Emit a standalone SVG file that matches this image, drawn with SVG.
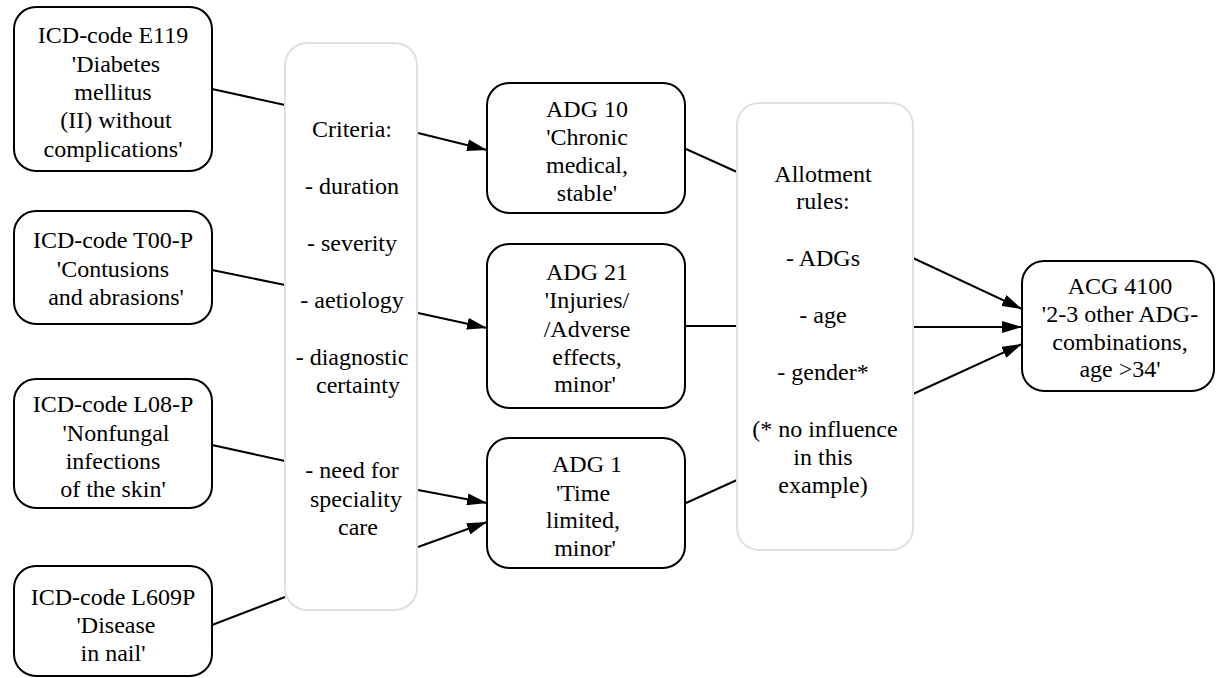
<svg xmlns="http://www.w3.org/2000/svg" width="1216" height="678" viewBox="0 0 1216 678">
<style>
.box{fill:#fff;stroke:#000;stroke-width:2}
.gbox{fill:#fff;stroke:#e0e0e0;stroke-width:2}
.t{font-size:24px;fill:#000;text-anchor:middle}
.edge{stroke:#000;stroke-width:2;fill:none}
</style>
<defs>
<marker id="arr" viewBox="0 0 20 12" refX="20" refY="6" markerWidth="20" markerHeight="12" orient="auto" markerUnits="userSpaceOnUse">
<path d="M0,0 L20,6 L0,12 z" fill="#000"/>
</marker>
</defs>
<rect width="1216" height="678" fill="#fff"/>
<g id="connectors">
<line class="edge" x1="212" y1="89" x2="285" y2="105"/>
<line class="edge" x1="212" y1="270" x2="285" y2="285"/>
<line class="edge" x1="212" y1="445" x2="285" y2="461"/>
<line class="edge" x1="212" y1="625" x2="285" y2="597"/>
<line class="edge" x1="418" y1="133" x2="487" y2="150" marker-end="url(#arr)"/>
<line class="edge" x1="418" y1="313" x2="487" y2="328" marker-end="url(#arr)"/>
<line class="edge" x1="418" y1="490" x2="487" y2="503" marker-end="url(#arr)"/>
<line class="edge" x1="418" y1="547" x2="487" y2="522" marker-end="url(#arr)"/>
<line class="edge" x1="686" y1="149" x2="737" y2="172"/>
<line class="edge" x1="686" y1="326" x2="737" y2="326"/>
<line class="edge" x1="686" y1="503" x2="737" y2="480"/>
<line class="edge" x1="913" y1="258" x2="1022" y2="309" marker-end="url(#arr)"/>
<line class="edge" x1="913" y1="327" x2="1022" y2="327" marker-end="url(#arr)"/>
<line class="edge" x1="913" y1="394" x2="1022" y2="344" marker-end="url(#arr)"/>
</g>
<g font-family="Liberation Serif, Times New Roman, serif">
<g id="icd_e119">
<rect class="box" x="14" y="7" width="198" height="164" rx="22"/>
<text class="t" x="113" y="43">ICD-code E119</text>
<text class="t" x="116" y="72">'Diabetes</text>
<text class="t" x="113" y="100">mellitus</text>
<text class="t" x="116" y="128">(II) without</text>
<text class="t" x="113" y="157">complications'</text>
</g>
<g id="icd_t00p">
<rect class="box" x="14" y="211" width="198" height="113" rx="22"/>
<text class="t" x="113" y="248">ICD-code T00-P</text>
<text class="t" x="113" y="277">'Contusions</text>
<text class="t" x="116" y="305">and abrasions'</text>
</g>
<g id="icd_l08p">
<rect class="box" x="14" y="379" width="198" height="129" rx="22"/>
<text class="t" x="113" y="412">ICD-code L08-P</text>
<text class="t" x="116" y="441">'Nonfungal</text>
<text class="t" x="113" y="469">infections</text>
<text class="t" x="113" y="497">of the skin'</text>
</g>
<g id="icd_l609p">
<rect class="box" x="14" y="566" width="198" height="110" rx="22"/>
<text class="t" x="113" y="605">ICD-code L609P</text>
<text class="t" x="116" y="633">'Disease</text>
<text class="t" x="113" y="661">in nail'</text>
</g>
<g id="criteria">
<rect class="gbox" x="285" y="43" width="132" height="567" rx="22"/>
<text class="t" x="352" y="137">Criteria:</text>
<text class="t" x="352" y="194">- duration</text>
<text class="t" x="352" y="251">- severity</text>
<text class="t" x="352" y="308">- aetiology</text>
<text class="t" x="352" y="365">- diagnostic</text>
<text class="t" x="358" y="393">certainty</text>
<text class="t" x="352" y="478">- need for</text>
<text class="t" x="356" y="507">speciality</text>
<text class="t" x="358" y="535">care</text>
</g>
<g id="adg10">
<rect class="box" x="487" y="83" width="198" height="130" rx="22"/>
<text class="t" x="587" y="117">ADG 10</text>
<text class="t" x="587" y="145">'Chronic</text>
<text class="t" x="587" y="173">medical,</text>
<text class="t" x="587" y="201">stable'</text>
</g>
<g id="adg21">
<rect class="box" x="487" y="244" width="198" height="164" rx="22"/>
<text class="t" x="587" y="280">ADG 21</text>
<text class="t" x="587" y="308">'Injuries/</text>
<text class="t" x="587" y="337">/Adverse</text>
<text class="t" x="587" y="365">effects,</text>
<text class="t" x="585" y="392">minor'</text>
</g>
<g id="adg1">
<rect class="box" x="487" y="438" width="198" height="130" rx="22"/>
<text class="t" x="587" y="472">ADG 1</text>
<text class="t" x="583" y="501">'Time</text>
<text class="t" x="583" y="528">limited,</text>
<text class="t" x="585" y="556">minor'</text>
</g>
<g id="allotment">
<rect class="gbox" x="737" y="103" width="176" height="447" rx="22"/>
<text class="t" x="823" y="182">Allotment</text>
<text class="t" x="823" y="209">rules:</text>
<text class="t" x="823" y="266">- ADGs</text>
<text class="t" x="823" y="323">- age</text>
<text class="t" x="823" y="380">- gender*</text>
<text class="t" x="825" y="437">(* no influence</text>
<text class="t" x="823" y="465">in this</text>
<text class="t" x="823" y="493">example)</text>
</g>
<g id="acg4100">
<rect class="box" x="1022" y="261" width="192" height="130" rx="22"/>
<text class="t" x="1120" y="294">ACG 4100</text>
<text class="t" x="1120" y="322">'2-3 other ADG-</text>
<text class="t" x="1120" y="350">combinations,</text>
<text class="t" x="1120" y="377">age &gt;34'</text>
</g>
</g>
</svg>
